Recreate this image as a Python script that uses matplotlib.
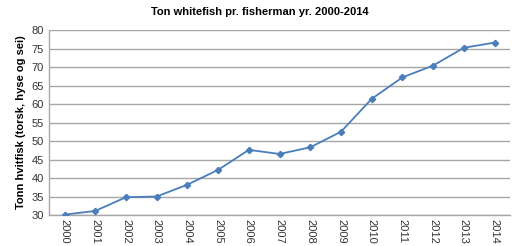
import numpy as np
import matplotlib
matplotlib.use("Agg")
from matplotlib import pyplot as plt

years = ["2000", "2001", "2002", "2003", "2004", "2005", "2006", "2007",
         "2008", "2009", "2010", "2011", "2012", "2013", "2014"]
tons = [30.1, 31.1, 34.8, 35.0, 38.2, 42.2, 47.6, 46.5,
        48.3, 52.5, 61.4, 67.2, 70.4, 75.2, 76.6]
y_ticks = [30, 35, 40, 45, 50, 55, 60, 65, 70, 75, 80]

plt.rcParams['font.family'] = ['Liberation Sans', 'DejaVu Sans']

fig = plt.figure(figsize=(5.12, 2.46), dpi=100)
ax = fig.add_axes([0.096, 0.126, 0.9, 0.752])

x = np.arange(len(years))
ax.plot(x, tons, color="#4a7ebb", lw=1.3, marker="D", ms=3.2, zorder=3)

ax.set_xlim(-0.5, len(years) - 0.5)
ax.set_ylim(30, 80)
ax.set_yticks(y_ticks)
ax.set_xticks(x)
ax.set_xticklabels(years, rotation=-90, fontsize=8, color="#333333")
ax.tick_params(axis="y", labelsize=8, colors="#333333", length=0, pad=4)
ax.tick_params(axis="x", length=0, pad=3)
ax.grid(axis="y", color="#a6a6a6", lw=1)
ax.set_axisbelow(True)
for s in ["top", "right"]:
    ax.spines[s].set_visible(False)
for s in ["left", "bottom"]:
    ax.spines[s].set_color("#a6a6a6")
    ax.spines[s].set_linewidth(1)

ax.set_ylabel("Tonn hvitfisk (torsk, hyse og sei)", fontsize=8, fontweight="bold", labelpad=4)
fig.text(0.508, 0.95, "Ton whitefish pr. fisherman yr. 2000-2014", ha="center", va="center",
         fontsize=8, fontweight="bold")

fig.savefig("out.png", dpi=100)
